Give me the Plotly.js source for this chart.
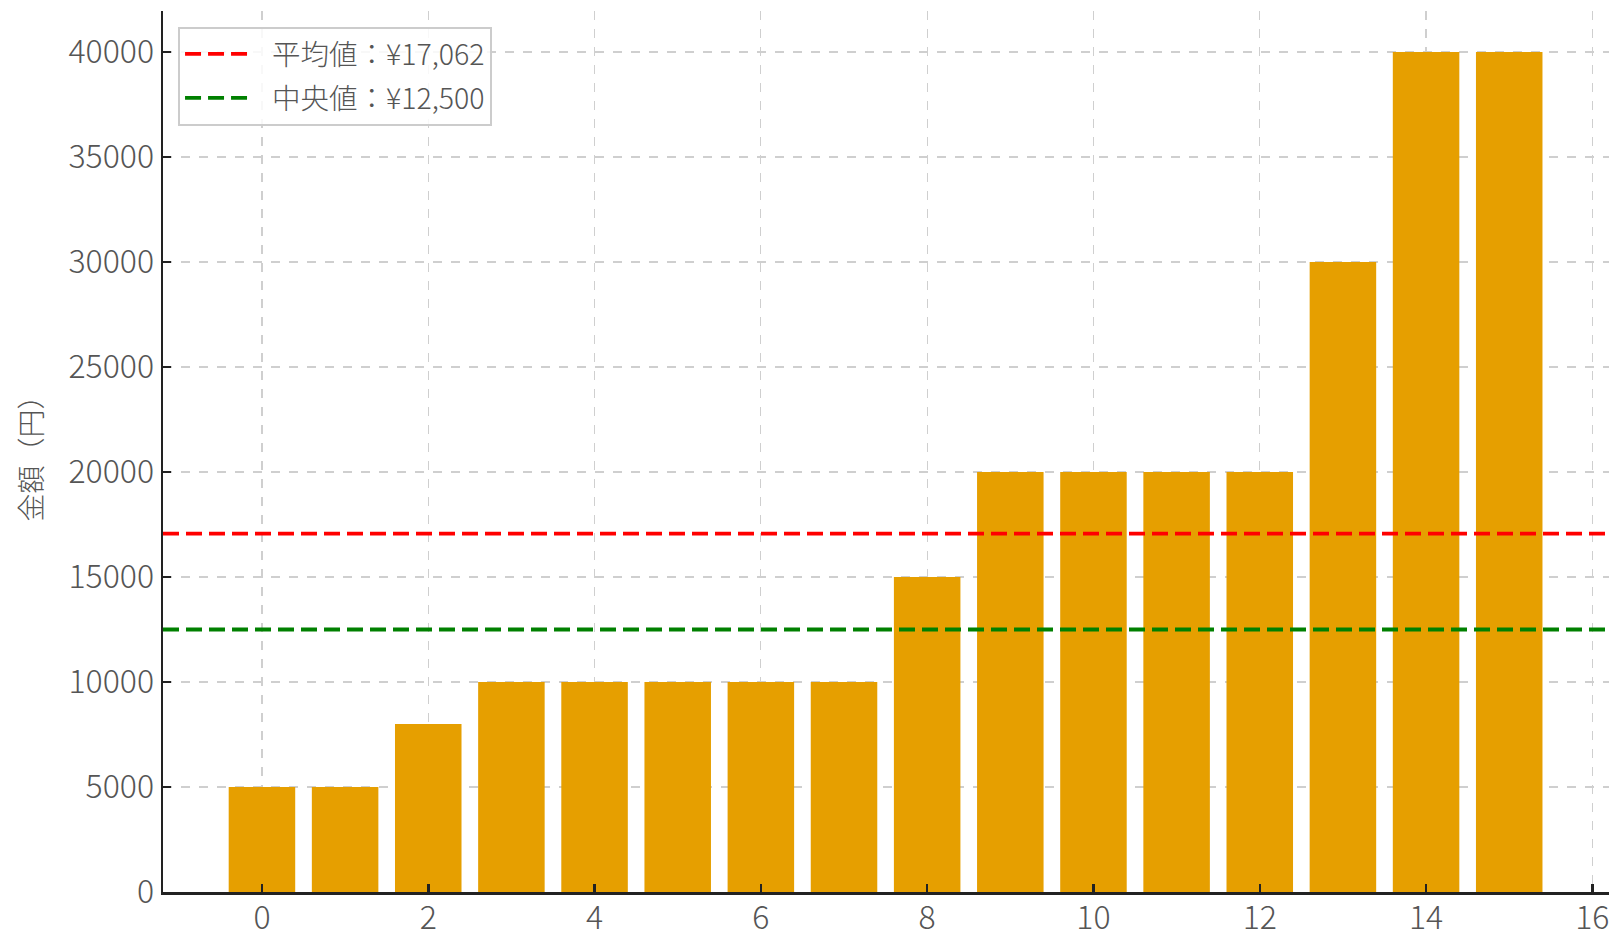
<!DOCTYPE html>
<html>
<head>
<meta charset="utf-8">
<script src="https://cdn.plot.ly/plotly-3.0.1.min.js"></script>
<style>html,body{margin:0;padding:0;background:#fff;}#chart{width:1615px;height:934px;}</style>
</head>
<body>
<div id="chart"></div>
<script>
const indices = [0,1,2,3,4,5,6,7,8,9,10,11,12,13,14,15];
const amounts = [5000,5000,8000,10000,10000,10000,10000,10000,15000,20000,20000,20000,20000,30000,40000,40000];
const meanValue = 17062.5;
const medianValue = 12500;
const meanLabel = "平均値：¥17,062";
const medianLabel = "中央値：¥12,500";
const yTitle = "金額（円）";
const xRange = [-1.19, 16.2];
const yRange = [0, 41950];

const font = "'Noto Sans CJK JP', 'Noto Sans', sans-serif";
const pad = "\u2002\u2009";

const traces = [
  {type:'bar', x: indices, y: amounts, width: 0.8, marker:{color:'#E69F00'}, showlegend:false, hoverinfo:'x+y'},
  {type:'scatter', mode:'lines', x: xRange, y:[meanValue, meanValue], name: pad + meanLabel, legendgroup:'a',
   line:{color:'#ff0000', width:3.8, dash:'16px,7px'}},
  {type:'scatter', mode:'lines', x: xRange, y:[medianValue, medianValue], name: pad + medianLabel, legendgroup:'b',
   line:{color:'#008000', width:3.8, dash:'16px,7px'}}
];

const layout = {
  width:1615, height:934,
  margin:{l:163, r:6, t:11, b:42, pad:0},
  paper_bgcolor:'#fff', plot_bgcolor:'#fff',
  font:{family:font, color:'#555', size:32, weight:300},
  xaxis:{range:xRange, tickmode:'linear', tick0:0, dtick:2, showgrid:true, gridcolor:'#cfcfcf',
    griddash:'dash', gridwidth:1.2, zeroline:false, showline:true, linecolor:'#222', linewidth:2.5,
    ticks:'inside', ticklen:8, tickwidth:2.5, tickcolor:'#222', tickfont:{size:32, color:'#555', weight:300},
    ticklabelstandoff:-4},
  yaxis:{range:yRange, tickmode:'linear', tick0:0, dtick:5000, tickformat:'d', showgrid:true, gridcolor:'#cfcfcf',
    griddash:'dash', gridwidth:1.2, zeroline:false, showline:true, linecolor:'#222', linewidth:2.5,
    ticks:'inside', ticklen:8, tickwidth:2.5, tickcolor:'#222', tickfont:{size:32, color:'#555', weight:300},
    title:{text:yTitle, font:{size:28, color:'#555', weight:300}, standoff:18}},
  legend:{x:0.0104, y:0.982, xanchor:'left', yanchor:'top', bgcolor:'rgba(255,255,255,0.85)',
    bordercolor:'#cccccc', borderwidth:2, font:{size:28.5, color:'#555', weight:300}, tracegroupgap:4,
    itemwidth:62},
  bargap:0.2
};

Plotly.newPlot('chart', traces, layout, {displayModeBar:false, staticPlot:true});
</script>
</body>
</html>
